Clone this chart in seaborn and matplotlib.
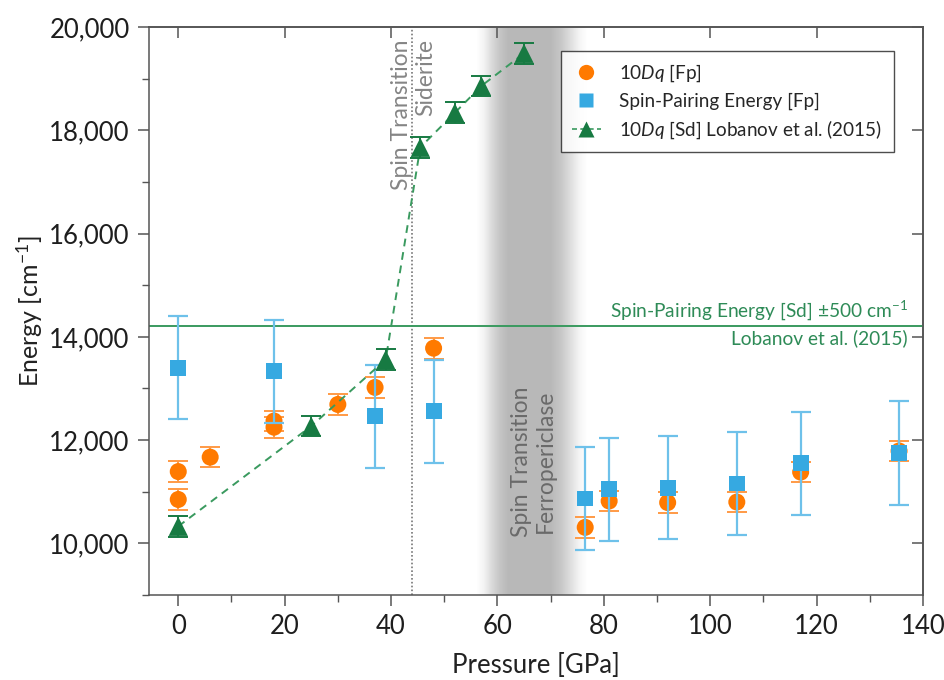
import numpy as np
import pandas as pd
import matplotlib
matplotlib.use("Agg")
import matplotlib.pyplot as plt
from matplotlib.lines import Line2D
from matplotlib.ticker import MultipleLocator, NullLocator, FuncFormatter
import seaborn as sns

# ---- data -------------------------------------------------------------
fp_dq_p = [0, 0, 6, 18, 18, 30, 37, 48, 76.5, 81, 92, 105, 117, 135.5]
fp_dq_e = [10850, 11390, 11670, 12370, 12250, 12690, 13020, 13780,
           10310, 10820, 10790, 10800, 11380, 11790]
fp_dq_err = [200] * len(fp_dq_p)

fp_spe_p = [0, 18, 37, 48, 76.5, 81, 92, 105, 117, 135.5]
fp_spe_e = [13400, 13330, 12460, 12560, 10870, 11050, 11080, 11160, 11550, 11750]
fp_spe_err = [1000] * len(fp_spe_p)

sd_dq_p = [0, 25, 39, 45.5, 52, 57, 65]
sd_dq_e = [10330, 12270, 13560, 17670, 18340, 18860, 19490]
sd_dq_err = [200] * len(sd_dq_p)

sd_spe = 14200              # spin-pairing energy of siderite
sd_transition = 44          # GPa
fp_transition = (56, 77)    # GPa range

# ---- style ------------------------------------------------------------
sns.set_theme(style="ticks")
plt.rcParams["font.family"] = ["Lato", "DejaVu Sans"]
plt.rcParams["mathtext.fontset"] = "custom"
plt.rcParams["mathtext.rm"] = "Lato"
plt.rcParams["mathtext.it"] = "Lato:italic"

ORANGE = "#ff7a00"
ORANGE_ERR = "#ff9a45"
BLUE = "#36a9e1"
BLUE_ERR = "#6ec1ea"
GREEN = "#177a42"
GREEN_LINE = "#3a9a5f"
SPINE = "#555555"

fig = plt.figure(figsize=(9.45, 6.8), dpi=100)
ax = fig.add_axes([149 / 945, 1 - 595 / 680, (923 - 149) / 945, (595 - 27) / 680])

# spin transition band of ferropericlase (soft grey gradient)
xs = np.linspace(fp_transition[0], fp_transition[1], 500)
stops_x = [56, 57.5, 59, 60.5, 62, 70, 72, 74, 75.5, 77]
stops_a = [0.0, 0.05, 0.15, 0.23, 0.28, 0.28, 0.22, 0.12, 0.04, 0.0]
alpha = np.interp(xs, stops_x, stops_a)
rgba = np.zeros((1, len(xs), 4))
rgba[..., 3] = alpha
ax.imshow(rgba, extent=[fp_transition[0], fp_transition[1], 9000, 20000],
          aspect="auto", zorder=0, interpolation="bilinear")
ax.set_xlim(-5.5, 140)
ax.set_ylim(9000, 20000)

# siderite transition and spin-pairing energy
ax.axvline(sd_transition, color="#777777", ls=(0, (1, 1.3)), lw=1.2, zorder=1)
ax.axhline(sd_spe, color=GREEN_LINE, lw=1.4, zorder=1)

# error bars
ax.errorbar(fp_dq_p, fp_dq_e, yerr=fp_dq_err, fmt="none", ecolor=ORANGE_ERR,
            elinewidth=1.4, capsize=7, capthick=1.4, zorder=2)
ax.errorbar(fp_spe_p, fp_spe_e, yerr=fp_spe_err, fmt="none", ecolor=BLUE_ERR,
            elinewidth=1.6, capsize=7, capthick=1.6, zorder=3)
ax.errorbar(sd_dq_p, sd_dq_e, yerr=sd_dq_err, fmt="none", ecolor=GREEN,
            elinewidth=1.4, capsize=7, capthick=1.4, zorder=5)

# markers
df_dq = pd.DataFrame({"p": fp_dq_p, "e": fp_dq_e})
df_spe = pd.DataFrame({"p": fp_spe_p, "e": fp_spe_e})
df_sd = pd.DataFrame({"p": sd_dq_p, "e": sd_dq_e})

sns.scatterplot(data=df_dq, x="p", y="e", ax=ax, marker="o", s=150,
                color=ORANGE, edgecolor="none", zorder=2.5, legend=False)
sns.scatterplot(data=df_spe, x="p", y="e", ax=ax, marker="s", s=130,
                color=BLUE, edgecolor="none", zorder=3.5, legend=False)
sns.lineplot(data=df_sd, x="p", y="e", ax=ax, color=GREEN_LINE, lw=1.4,
             dashes=False, zorder=4, legend=False, linestyle=(0, (4, 3)))
sns.scatterplot(data=df_sd, x="p", y="e", ax=ax, marker="^", s=190,
                color=GREEN, edgecolor="none", zorder=5.5, legend=False)

# annotations
ax.text(sd_transition + 0.2, 19760, "Spin Transition\nSiderite", rotation=90,
        ha="center", va="top", multialignment="right", fontsize=16.5,
        color="#858585", linespacing=1.2, zorder=6)
ax.text(66.8, 11590, "Spin Transition\nFerropericlase", rotation=90,
        ha="center", va="center", multialignment="center", fontsize=16.5,
        color="#6a6a6a", linespacing=1.2, zorder=6)
ax.text(137.2, sd_spe + 90, "Spin-Pairing Energy [Sd] \u00b1500 cm$^{-1}$",
        ha="right", va="bottom", fontsize=13.8, color="#2e8b57", zorder=6)
ax.text(137.2, sd_spe - 60, "Lobanov et al. (2015)",
        ha="right", va="top", fontsize=13.8, color="#2e8b57", zorder=6)

# axes and ticks
ax.set_xlabel("Pressure [GPa]", fontsize=18.5, color="#222222", labelpad=10)
ax.set_ylabel("Energy [cm$^{-1}$]", fontsize=18, color="#222222", labelpad=3)
ax.xaxis.set_major_locator(MultipleLocator(20))
ax.xaxis.set_minor_locator(MultipleLocator(10))
ax.yaxis.set_major_locator(MultipleLocator(2000))
ax.yaxis.set_minor_locator(MultipleLocator(1000))
ax.yaxis.set_major_formatter(FuncFormatter(lambda v, _: f"{int(v):,}"))
ax.tick_params(which="major", direction="out", length=8, width=1.1,
               color=SPINE, labelsize=18.5, labelcolor="#1e1e1e", pad=6)
ax.tick_params(which="minor", direction="out", length=5, width=1.0, color=SPINE)
for s in ax.spines.values():
    s.set_color(SPINE)
    s.set_linewidth(1.1)

top = ax.secondary_xaxis("top")
top.xaxis.set_major_locator(MultipleLocator(20))
top.xaxis.set_minor_locator(NullLocator())
top.tick_params(direction="in", length=8, width=1.1, color=SPINE, labeltop=False)
top.spines["top"].set_color(SPINE)
right = ax.secondary_yaxis("right")
right.yaxis.set_major_locator(MultipleLocator(2000))
right.yaxis.set_minor_locator(NullLocator())
right.tick_params(direction="in", length=8, width=1.1, color=SPINE, labelright=False)
right.spines["right"].set_color(SPINE)

# legend
handles = [
    Line2D([], [], ls="none", marker="o", ms=11, color=ORANGE, mec="none"),
    Line2D([], [], ls="none", marker="s", ms=10, color=BLUE, mec="none"),
    Line2D([], [], ls=(0, (3, 2)), lw=1.2, color=GREEN_LINE, marker="^",
           ms=12, mfc=GREEN, mec="none"),
]
labels = ["10$\\it{Dq}$ [Fp]", "Spin-Pairing Energy [Fp]",
          "10$\\it{Dq}$ [Sd] Lobanov et al. (2015)"]
leg = ax.legend(handles, labels, loc="upper right", bbox_to_anchor=(0.962, 0.958),
                borderaxespad=0, fontsize=13.6, frameon=True, fancybox=False,
                handlelength=1.5, handletextpad=1.0, labelspacing=0.45,
                borderpad=0.6)
leg.get_frame().set_edgecolor("#222222")
leg.get_frame().set_linewidth(1.0)
leg.set_zorder(10)

fig.savefig("out.png", dpi=100)
